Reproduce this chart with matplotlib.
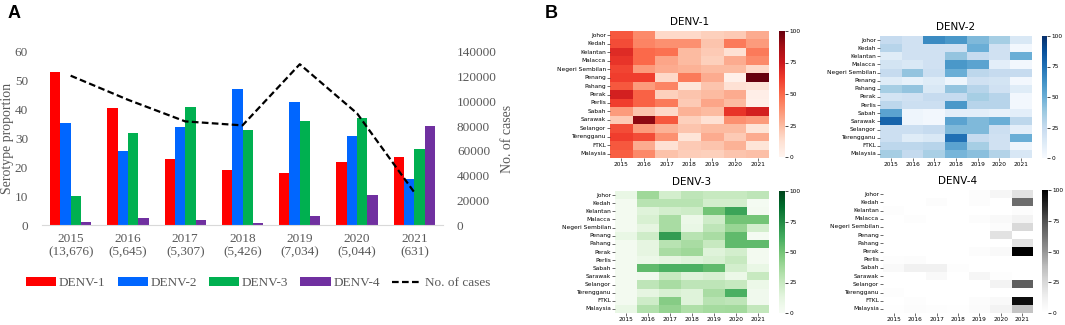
import numpy as np
import matplotlib
matplotlib.use("Agg")
import matplotlib.pyplot as plt
import seaborn as sns

# ---- panel A data ----
years = ["2015", "2016", "2017", "2018", "2019", "2020", "2021"]
n_samples = ["13,676", "5,645", "5,307", "5,426", "7,034", "5,044", "631"]
denv1 = [53, 40.5, 23, 19, 18, 22, 23.5]
denv2 = [35.5, 25.5, 34, 47, 42.5, 31, 16]
denv3 = [10, 32, 41, 33, 36, 37, 26.5]
denv4 = [1.2, 2.5, 1.8, 0.8, 3.2, 10.5, 34.5]
cases = [120836, 101357, 83849, 80615, 130101, 90304, 26365]

# ---- panel B data (percent per state / year) ----
states = ["Johor", "Kedah", "Kelantan", "Malacca", "Negeri Sembilan", "Penang",
          "Pahang", "Perak", "Perlis", "Sabah", "Sarawak", "Selangor",
          "Terengganu", "FTKL", "Malaysia"]

hm1 = [[55, 40, 15, 15, 18, 20, 30],
       [58, 42, 38, 38, 22, 45, 35],
       [68, 50, 48, 25, 20, 12, 45],
       [65, 50, 32, 25, 18, 30, 40],
       [60, 35, 30, 28, 25, 25, 15],
       [62, 62, 15, 45, 30, 3, 100],
       [55, 35, 42, 10, 22, 12, 10],
       [72, 52, 18, 22, 25, 30, 4],
       [62, 52, 45, 20, 32, 25, 3],
       [35, 22, 15, 28, 25, 65, 72],
       [20, 92, 55, 18, 12, 38, 35],
       [58, 35, 28, 22, 25, 25, 10],
       [62, 58, 38, 10, 30, 20, 30],
       [55, 30, 12, 20, 22, 28, 10],
       denv1]
hm2 = [[25, 20, 65, 60, 45, 35, 15],
       [30, 20, 20, 20, 50, 20, 3],
       [12, 20, 20, 40, 25, 20, 50],
       [18, 15, 20, 60, 55, 10, 3],
       [25, 40, 22, 50, 28, 25, 25],
       [12, 8, 12, 5, 20, 18, 3],
       [35, 40, 15, 40, 30, 20, 12],
       [18, 20, 25, 25, 35, 30, 3],
       [28, 22, 22, 60, 30, 30, 3],
       [55, 5, 3, 10, 10, 8, 10],
       [80, 5, 3, 55, 45, 50, 28],
       [22, 22, 25, 45, 45, 22, 10],
       [22, 12, 15, 75, 25, 20, 50],
       [28, 28, 30, 55, 35, 20, 5],
       denv2]
hm3 = [[10, 38, 20, 28, 25, 25, 28],
       [3, 30, 30, 30, 20, 20, 2],
       [3, 15, 20, 22, 50, 65, 3],
       [3, 18, 35, 8, 22, 50, 50],
       [3, 12, 35, 10, 28, 40, 20],
       [10, 22, 68, 30, 35, 55, 2],
       [3, 12, 30, 35, 25, 55, 55],
       [3, 12, 35, 38, 15, 20, 3],
       [3, 8, 12, 15, 18, 25, 3],
       [3, 55, 60, 60, 55, 20, 10],
       [3, 5, 25, 15, 18, 8, 25],
       [3, 28, 35, 28, 28, 25, 8],
       [3, 12, 18, 15, 35, 60, 5],
       [3, 22, 45, 15, 30, 28, 5],
       denv3]
hm4 = [[0, 0, 0, 0, 3, 8, 20],
       [0, 0, 3, 0, 3, 0, 65],
       [2, 0, 0, 0, 0, 0, 3],
       [0, 2, 0, 0, 3, 5, 10],
       [0, 0, 0, 0, 0, 3, 25],
       [0, 0, 0, 0, 0, 20, 0],
       [0, 0, 0, 0, 0, 0, 20],
       [0, 0, 0, 0, 3, 5, 100],
       [2, 3, 0, 0, 0, 0, 0],
       [5, 12, 12, 2, 0, 0, 0],
       [0, 0, 5, 0, 8, 2, 0],
       [0, 0, 0, 0, 0, 10, 70],
       [2, 0, 0, 0, 0, 0, 0],
       [0, 2, 0, 0, 3, 5, 95],
       denv4]

W, H = 1065, 325
fig = plt.figure(figsize=(W / 100, H / 100), dpi=100)

def box(x0, y0, x1, y1):
    # pixel box -> figure fraction rect
    return [x0 / W, 1 - y1 / H, (x1 - x0) / W, (y1 - y0) / H]

# ================= panel A =================
serif = "Liberation Serif"
grey = "#595959"
fs = 9.5
ax = fig.add_axes(box(42, 52, 443, 225))
x = np.arange(len(years))
bw = 0.18
cols = ["#FF0000", "#0066FF", "#00B050", "#7030A0"]
names = ["DENV-1", "DENV-2", "DENV-3", "DENV-4"]
handles = []
for i, (vals, c, nm) in enumerate(zip([denv1, denv2, denv3, denv4], cols, names)):
    b = ax.bar(x + (i - 1.5) * bw, vals, bw, color=c, label=nm)
    handles.append(b)
ax.set_xlim(-0.5, 6.5)
ax.set_ylim(0, 60)
ax.set_yticks(range(0, 61, 10))
ax.set_xticks(x)
ax.set_xticklabels([f"{y}\n({n})" for y, n in zip(years, n_samples)],
                   fontfamily=serif, fontsize=fs, color=grey, linespacing=1.15)
for t in ax.get_yticklabels():
    t.set_fontfamily(serif); t.set_fontsize(fs); t.set_color(grey)
ax.tick_params(axis="both", length=0)
ax.tick_params(axis="y", pad=10)
ax.tick_params(axis="x", pad=6)
for s in ["top", "left", "right"]:
    ax.spines[s].set_visible(False)
ax.spines["bottom"].set_color("#d9d9d9")
ax.set_ylabel("Serotype proportion", fontfamily=serif, fontsize=10, color=grey,
              va="center")
ax.yaxis.set_label_coords(-34 / 401, 0.5)

ax2 = ax.twinx()
ln, = ax2.plot(x, cases, color="black", lw=1.6, ls=(0, (3, 1.5)), label="No. of cases")
ax2.set_ylim(0, 140000)
ax2.set_yticks(range(0, 140001, 20000))
for t in ax2.get_yticklabels():
    t.set_fontfamily(serif); t.set_fontsize(fs); t.set_color(grey)
ax2.tick_params(axis="y", length=0, pad=10)
for s in ["top", "left", "right", "bottom"]:
    ax2.spines[s].set_visible(False)
ax2.set_ylabel("No. of cases", fontfamily=serif, fontsize=10, color=grey, labelpad=3)

fig.legend(handles + [ln], names + ["No. of cases"], loc="center",
           bbox_to_anchor=(258 / W, 1 - 283 / H), ncol=5, frameon=False,
           prop={"family": serif, "size": fs}, labelcolor=grey,
           handlelength=2.3, handleheight=0.6, handletextpad=0.2, columnspacing=0.9)

fig.text(8 / W, 1 - 13 / H, "A", fontsize=13, fontweight="bold", va="center",
         fontfamily="Liberation Sans")
fig.text(545 / W, 1 - 13 / H, "B", fontsize=13, fontweight="bold", va="center",
         fontfamily="Liberation Sans")

# ================= panel B =================
panels = [
    (hm1, "Reds", "DENV-1", (610, 31, 769, 158), (779, 31, 785, 157)),
    (hm2, "Blues", "DENV-2", (880, 36, 1032, 158), (1042, 36, 1047, 158)),
    (hm3, "Greens", "DENV-3", (615, 191, 769, 313), (779, 191, 785, 313)),
    (hm4, "Greys", "DENV-4", (883, 190, 1033, 313), (1042, 190, 1048, 313)),
]
for data, cmap, title, hb, cb in panels:
    hax = fig.add_axes(box(*hb))
    cax = fig.add_axes(box(*cb))
    sns.heatmap(np.array(data), cmap=cmap, vmin=0, vmax=100, ax=hax, cbar_ax=cax,
                xticklabels=years, yticklabels=states)
    hax.set_title(title, fontsize=7.5, fontfamily="DejaVu Sans", pad=4)
    hax.tick_params(axis="both", labelsize=4.2, length=2, width=0.5, pad=1, color="#333333")
    hax.set_yticklabels(states, rotation=0)
    hax.set_xticklabels(years, rotation=0)
    cax.set_yticks([0, 25, 50, 75, 100])
    cax.tick_params(labelsize=4.2, length=2, width=0.5, pad=1)

fig.savefig("out.png", dpi=100)
